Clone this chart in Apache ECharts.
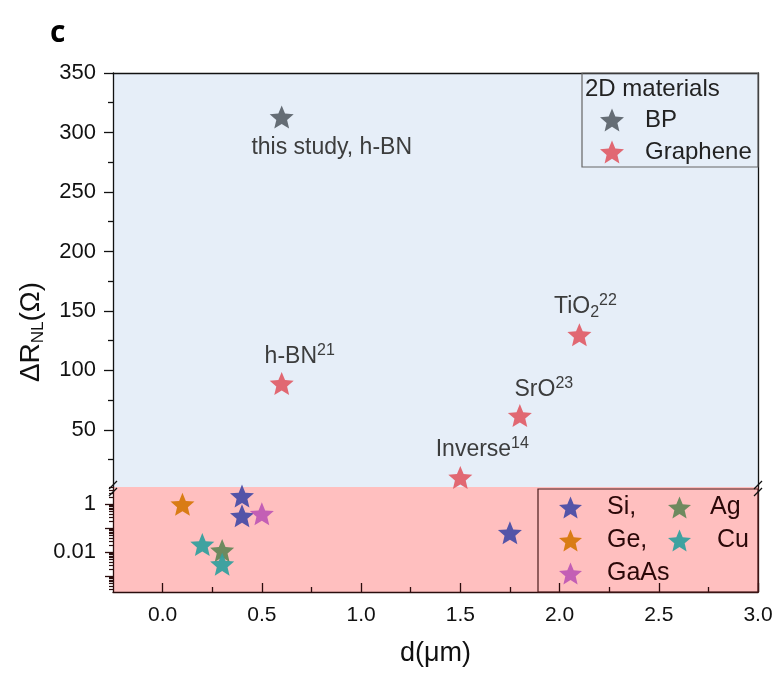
<!DOCTYPE html>
<html>
<head>
<meta charset="utf-8">
<script src="https://cdn.jsdelivr.net/npm/echarts@6/dist/echarts.min.js"></script>
<style>
html,body{margin:0;padding:0;background:#fff;}
#chart{width:780px;height:673px;}
</style>
</head>
<body>
<div id="chart"></div>
<script>
// ---- data ----
const bpX = [0.6];
const bpY = [313];
const bpLabels = ['this study, h-BN'];

const grapheneX = [0.6, 1.5, 1.8, 2.1];
const grapheneY = [89, 10, 62, 130];
const grapheneLabels = ['{a|h-BN}{sup|21}', '{a|Inverse}{sup|14}', '{a|SrO}{sup|23}', '{a|TiO}{sub|2}{sup|22}'];

const siX = [0.4, 0.4, 1.75];
const siY = [2.2, 0.33, 0.065];
const geX = [0.1];
const geY = [1.0];
const gaasX = [0.5];
const gaasY = [0.4];
const agX = [0.3];
const agY = [0.012];
const cuX = [0.2, 0.3];
const cuY = [0.021, 0.0032];

const xTickValues = [0, 0.5, 1.0, 1.5, 2.0, 2.5, 3.0];
const xMinorTickValues = [0.25, 0.75, 1.25, 1.75, 2.25, 2.75];
const yUpperTicks = [50, 100, 150, 200, 250, 300, 350];
const yUpperMinorTicks = [25, 75, 125, 175, 225, 275, 325];
const yLogLabels = [0.01, 1];
const yLogMajorTicks = [0.001, 0.01, 0.1, 1];

// ---- styling ----
const FONT = '"Liberation Sans", Arial, sans-serif';
const STAR = 'path://M50,0 L63.2,31.8 L97.6,34.5 L71.4,57 L79.4,90.5 L50,72.5 L20.6,90.5 L28.6,57 L2.4,34.5 L36.8,31.8 Z';
const colors = {
  BP: '#5e656e', Graphene: '#e0606a', Si: '#4b4ea6', Ge: '#d7780c',
  GaAs: '#c05ab4', Ag: '#66875a', Cu: '#35a09e'
};
const SYM = [24, 23];

function logMinor() {
  const out = [];
  for (let e = -4; e <= 0; e++) {
    for (let m = 2; m <= 9; m++) {
      const v = m * Math.pow(10, e);
      if (v > 2.22e-4 && v < 5.26) out.push(Number(v.toPrecision(3)));
    }
  }
  return out;
}

const annStyle = {
  a: { fontSize: 23, lineHeight: 28, fontFamily: FONT, color: '#333' },
  sup: { fontSize: 16, lineHeight: 14, verticalAlign: 'top', fontFamily: FONT, color: '#333' },
  sub: { fontSize: 16, lineHeight: 8, verticalAlign: 'bottom', fontFamily: FONT, color: '#333' }
};
const grapheneOffsets = [[18, -27], [22, -28], [24, -26], [6, -28]];
const bpOffsets = [[50, 31]];

function pts(xs, ys, labels, offsets) {
  return xs.map((x, i) => {
    const item = { value: [x, ys[i]] };
    if (labels) {
      item.label = {
        show: true, position: 'inside', offset: offsets[i],
        formatter: labels[i], rich: annStyle,
        fontSize: 23, fontFamily: FONT, color: '#333'
      };
    }
    return item;
  });
}

function scatter(name, xs, ys, lower, labels, offsets) {
  return {
    name: name, type: 'scatter',
    xAxisIndex: lower ? 1 : 0, yAxisIndex: lower ? 3 : 0,
    symbol: STAR, symbolSize: SYM,
    itemStyle: { color: colors[name], opacity: 0.95 },
    clip: false,
    data: pts(xs, ys, labels, offsets),
    z: 5
  };
}

const DARK = '#111';
const MAROON = '#2a0d0d';
function line(color) { return { show: true, onZero: false, lineStyle: { color: color, width: 1.3 } }; }
const noSplit = { show: false };

const option = {
  animation: false,
  backgroundColor: '#ffffff',
  textStyle: { fontFamily: FONT },
  title: {
    text: 'c', left: 45, top: 13,
    textStyle: { fontSize: 30, fontWeight: 'bold', color: '#000', fontFamily: '"Open Sans", "Liberation Sans", sans-serif' }
  },
  grid: [
    { left: 113, top: 73, width: 645, height: 414, show: true, backgroundColor: '#e6eef8', borderWidth: 0 },
    { left: 113, top: 487, width: 645, height: 105, show: true, backgroundColor: '#ffbfbf', borderWidth: 0 }
  ],
  xAxis: [
    { gridIndex: 0, type: 'value', position: 'top', min: -0.25, max: 3,
      axisLine: line(DARK), axisTick: { show: false }, axisLabel: { show: false }, splitLine: noSplit },
    { gridIndex: 1, type: 'value', position: 'bottom', min: -0.25, max: 3,
      axisLine: line(MAROON),
      axisTick: { show: true, inside: true, length: 9, customValues: xTickValues, lineStyle: { color: MAROON, width: 1.3 } },
      axisLabel: { show: true, customValues: xTickValues, margin: 13, fontSize: 21, color: '#111', fontFamily: FONT,
        formatter: v => Number(v).toFixed(1) },
      splitLine: noSplit,
      name: 'd(\u03bcm)', nameLocation: 'middle', nameGap: 48,
      nameTextStyle: { fontSize: 27, color: '#111', fontFamily: FONT } },
    { gridIndex: 1, type: 'value', position: 'bottom', min: -0.25, max: 3,
      axisLine: { show: false, onZero: false },
      axisTick: { show: true, inside: true, length: 5, customValues: xMinorTickValues, lineStyle: { color: MAROON, width: 1.3 } },
      axisLabel: { show: false }, splitLine: noSplit }
  ],
  yAxis: [
    { gridIndex: 0, type: 'value', position: 'left', min: 2, max: 350,
      axisLine: line(DARK),
      axisTick: { show: true, inside: false, length: 9, customValues: yUpperTicks, lineStyle: { color: DARK, width: 1.3 } },
      axisLabel: { show: true, customValues: yUpperTicks, margin: 17, fontSize: 22, color: '#111', fontFamily: FONT },
      splitLine: noSplit },
    { gridIndex: 0, type: 'value', position: 'left', min: 2, max: 350,
      axisLine: { show: false, onZero: false },
      axisTick: { show: true, inside: false, length: 5, customValues: yUpperMinorTicks, lineStyle: { color: DARK, width: 1.3 } },
      axisLabel: { show: false }, splitLine: noSplit },
    { gridIndex: 0, type: 'value', position: 'right', min: 2, max: 350,
      axisLine: line(DARK), axisTick: { show: false }, axisLabel: { show: false }, splitLine: noSplit },
    { gridIndex: 1, type: 'log', logBase: 10, position: 'left', min: 2.22e-4, max: 5.26,
      axisLine: line(MAROON),
      axisTick: { show: true, inside: false, length: 8, customValues: yLogMajorTicks, lineStyle: { color: MAROON, width: 1.3 } },
      axisLabel: { show: true, customValues: yLogLabels, margin: 17, fontSize: 22, color: '#111', fontFamily: FONT,
        formatter: v => String(Number(Number(v).toPrecision(3))) },
      splitLine: noSplit },
    { gridIndex: 1, type: 'log', logBase: 10, position: 'left', min: 2.22e-4, max: 5.26,
      axisLine: { show: false, onZero: false },
      axisTick: { show: true, inside: false, length: 4, customValues: logMinor(), lineStyle: { color: MAROON, width: 1.2 } },
      axisLabel: { show: false }, splitLine: noSplit },
    { gridIndex: 1, type: 'value', position: 'right', min: 0, max: 1,
      axisLine: line(MAROON),
      axisTick: { show: false }, axisLabel: { show: false }, splitLine: noSplit }
  ],
  legend: [
    { data: ['BP', 'Graphene'], orient: 'vertical', left: 600, top: 108, padding: 0,
      itemWidth: 24, itemHeight: 23, itemGap: 8, icon: STAR,
      textStyle: { fontSize: 24, color: '#222', fontFamily: FONT, padding: [0, 0, 0, 16] } },
    { data: ['Si', 'Ge', 'GaAs'], orient: 'vertical', left: 559, top: 495, padding: 0,
      itemWidth: 23, itemHeight: 23, itemGap: 8, icon: STAR,
      formatter: n => (n === 'Si' || n === 'Ge') ? n + ',' : n,
      textStyle: { fontSize: 25, color: '#2a0808', fontFamily: FONT, padding: [0, 0, 0, 20] } },
    { data: ['Ag', 'Cu'], orient: 'vertical', left: 668, top: 495, padding: 0,
      itemWidth: 23, itemHeight: 23, itemGap: 8, icon: STAR,
      formatter: n => n === 'Cu' ? ' ' + n : n,
      textStyle: { fontSize: 25, color: '#2a0808', fontFamily: FONT, padding: [0, 0, 0, 14] } }
  ],
  graphic: [
    { type: 'rect', shape: { x: 582, y: 73, width: 176, height: 94 }, style: { fill: 'none', stroke: '#666', lineWidth: 1.2 }, z: 20 },
    { type: 'text', x: 585, y: 77, style: { text: '2D materials', font: '24px ' + FONT, fill: '#222' }, z: 20 },
    { type: 'rect', shape: { x: 538, y: 489, width: 220, height: 103 }, style: { fill: 'none', stroke: '#4a1a1a', lineWidth: 1.2 }, z: 20 },
    { type: 'text', x: 31, y: 332, rotation: Math.PI / 2,
      style: { text: '{a|\u0394R}{s|NL}{a|(\u03a9)}', textAlign: 'center', textVerticalAlign: 'middle',
        rich: { a: { fontSize: 28, lineHeight: 32, fontFamily: FONT, fill: '#111', color: '#111' },
                s: { fontSize: 17, lineHeight: 12, verticalAlign: 'bottom', fontFamily: FONT, fill: '#111', color: '#111' } } }, z: 20 },
    // axis break marks
    { type: 'line', shape: { x1: 109, y1: 489, x2: 117, y2: 481 }, style: { stroke: '#111', lineWidth: 1.3 }, z: 20 },
    { type: 'line', shape: { x1: 109, y1: 496, x2: 117, y2: 488 }, style: { stroke: '#111', lineWidth: 1.3 }, z: 20 },
    { type: 'line', shape: { x1: 754, y1: 489, x2: 762, y2: 481 }, style: { stroke: '#111', lineWidth: 1.3 }, z: 20 },
    { type: 'line', shape: { x1: 754, y1: 496, x2: 762, y2: 488 }, style: { stroke: '#111', lineWidth: 1.3 }, z: 20 }
  ],
  series: [
    scatter('BP', bpX, bpY, false, bpLabels, bpOffsets),
    scatter('Graphene', grapheneX, grapheneY, false, grapheneLabels, grapheneOffsets),
    scatter('Si', siX, siY, true),
    scatter('Ge', geX, geY, true),
    scatter('GaAs', gaasX, gaasY, true),
    scatter('Ag', agX, agY, true),
    scatter('Cu', cuX, cuY, true)
  ]
};

const chart = echarts.init(document.getElementById('chart'), null, { renderer: 'canvas' });
chart.setOption(option);
</script>
</body>
</html>
